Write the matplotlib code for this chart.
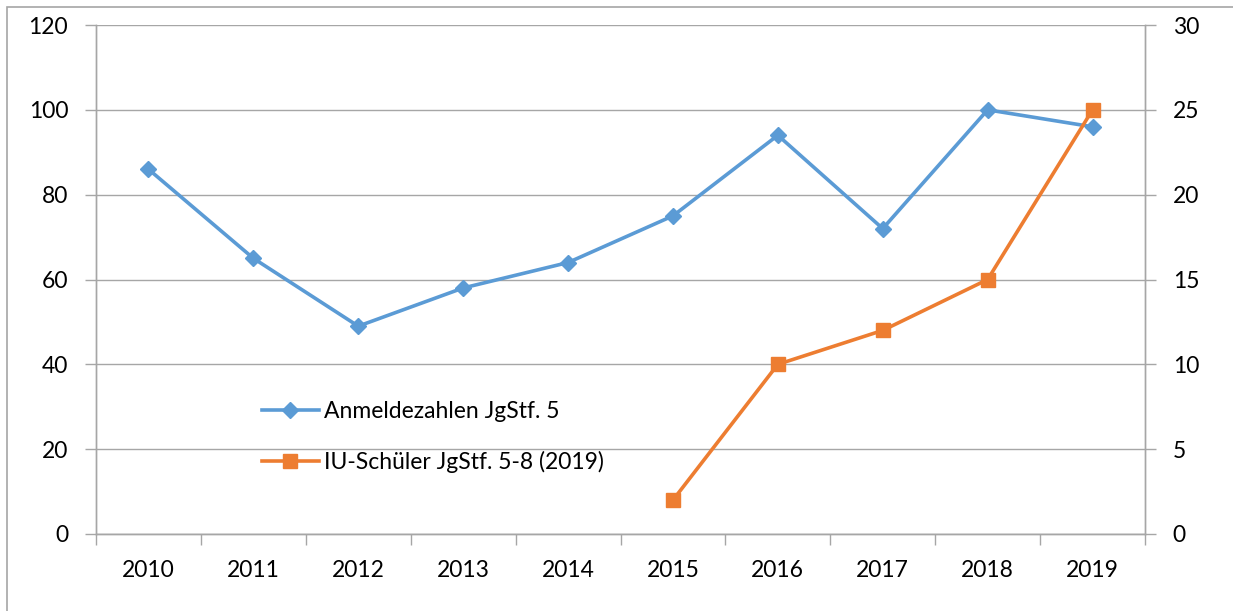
import matplotlib.pyplot as plt
from matplotlib.patches import Rectangle

plt.rcParams['font.family'] = ['Lato', 'DejaVu Sans']

# Daten
jahre = ["2010", "2011", "2012", "2013", "2014", "2015", "2016", "2017", "2018", "2019"]
anmeldungen = [86, 65, 49, 58, 64, 75, 94, 72, 100, 96]
iu_jahre = ["2015", "2016", "2017", "2018", "2019"]
iu_schueler = [2, 10, 12, 15, 25]

blau = "#5B9BD5"
orange = "#ED7D31"
grau = "#A6A6A6"

fig = plt.figure(figsize=(12.33, 6.11), dpi=100)
ax = fig.add_axes([96/1233, 1 - 534/611, (1145 - 96)/1233, (534 - 25)/611])
ax2 = ax.twinx()

x = list(range(len(jahre)))
x_iu = [jahre.index(j) for j in iu_jahre]

l1, = ax.plot(x, anmeldungen, color=blau, lw=2.6, marker="D", markersize=8,
              label="Anmeldezahlen JgStf. 5")
l2, = ax2.plot(x_iu, iu_schueler, color=orange, lw=2.6, marker="s", markersize=10,
               label="IU-Schüler JgStf. 5-8 (2019)")

ax.set_xlim(-0.5, len(jahre) - 0.5)
ax.set_ylim(0, 120)
ax2.set_ylim(0, 30)
ax.set_yticks(range(0, 121, 20))
ax2.set_yticks(range(0, 31, 5))

# x-Ticks zwischen den Kategorien
ax.set_xticks([i - 0.5 for i in range(len(jahre) + 1)])
ax.set_xticklabels([])
ax.set_xticks(x, minor=True)
ax.set_xticklabels(jahre, minor=True)
ax.tick_params(axis="x", which="minor", length=0, pad=19, labelsize=16.5)
ax.tick_params(axis="x", which="major", length=8, width=1, color=grau)
ax.tick_params(axis="y", length=8, width=1, color=grau, pad=12, labelsize=16.5)
ax2.tick_params(axis="y", length=8, width=1, color=grau, pad=12, labelsize=16.5)

ax.grid(axis="y", color=grau, lw=1)
ax.set_axisbelow(True)

for a in (ax, ax2):
    a.spines["top"].set_visible(False)
    for s in ("left", "right", "bottom"):
        a.spines[s].set_color(grau)
        a.spines[s].set_linewidth(1)

ax2.legend([l1, l2], [l1.get_label(), l2.get_label()], loc="center left",
           bbox_to_anchor=(0.158, 0.19), frameon=False, fontsize=16.5,
           labelspacing=1.25, handlelength=2.5, handletextpad=0.2,
           borderpad=0, borderaxespad=0)

# Rahmen um das Diagramm
fig.patches.append(Rectangle((7/1233, -0.5), 2, 1.5 - 7/611, transform=fig.transFigure,
                             fill=False, edgecolor=grau, lw=1.2))

fig.savefig("out.png", dpi=100)
